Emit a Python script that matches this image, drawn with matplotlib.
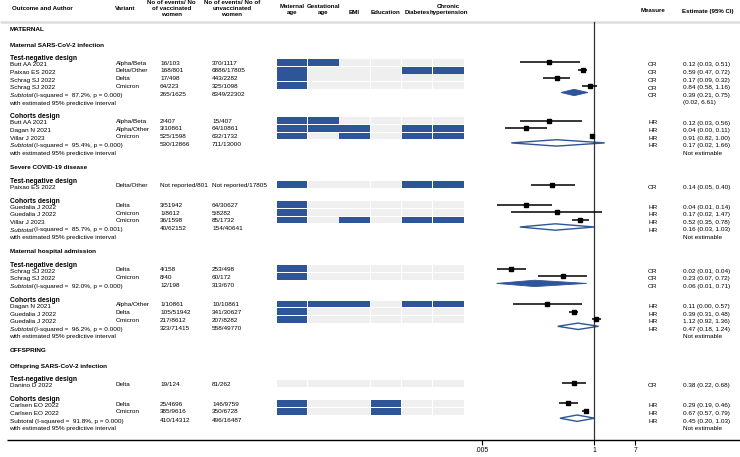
import matplotlib
matplotlib.use("Agg")
import matplotlib.pyplot as plt
import numpy as np

plt.rcParams['font.family'] = ['Liberation Sans', 'DejaVu Sans']

BLUE = "#2d5597"
GREY = "#efefef"
FS = 4.6

# --- data ---------------------------------------------------------------
authors = ["Butt AA 2021", "Paixao ES 2022", "Schrag SJ 2022", "Schrag SJ 2022",
           "Butt AA 2021", "Dagan N 2021", "Villar J 2023",
           "Paixao ES 2022",
           "Guedalia J 2022", "Guedalia J 2022", "Villar J 2023",
           "Schrag SJ 2022", "Schrag SJ 2022",
           "Dagan N 2021", "Guedalia J 2022", "Guedalia J 2022",
           "Danino D 2022",
           "Carlsen EO 2022", "Carlsen EO 2022"]
variants = ["Alpha/Beta", "Delta/Other", "Delta", "Omicron",
            "Alpha/Beta", "Alpha/Other", "Omicron",
            "Delta/Other",
            "Delta", "Omicron", "Omicron",
            "Delta", "Omicron",
            "Alpha/Other", "Delta", "Omicron",
            "Delta",
            "Delta", "Omicron"]
vacc = ["16/103", "168/801", "17/498", "64/223",
        "2/407", "3/10861", "525/1598",
        "Not reported/801",
        "3/51942", "1/8612", "36/1598",
        "4/158", "8/40",
        "1/10861", "105/51942", "217/8612",
        "19/124",
        "25/4696", "385/9616"]
unvacc = ["370/1117", "6886/17805", "443/2282", "325/1098",
          "15/407", "64/10861", "632/1732",
          "Not reported/17805",
          "64/30627", "5/8282", "85/1732",
          "253/498", "60/172",
          "10/10861", "341/30627", "207/8282",
          "81/262",
          "146/9759", "350/6728"]
measure = ["OR", "OR", "OR", "OR", "HR", "HR", "HR", "OR", "HR", "HR", "HR",
           "OR", "OR", "HR", "HR", "HR", "OR", "HR", "HR"]
est = [0.12, 0.59, 0.17, 0.84, 0.12, 0.04, 0.91, 0.14, 0.04, 0.17, 0.52,
       0.02, 0.23, 0.11, 0.39, 1.12, 0.38, 0.29, 0.67]
lo = [0.03, 0.47, 0.09, 0.58, 0.03, 0.015, 0.82, 0.05, 0.01, 0.02, 0.35,
      0.01, 0.07, 0.022, 0.31, 0.92, 0.22, 0.19, 0.57]
hi = [0.51, 0.72, 0.32, 1.16, 0.56, 0.11, 1.00, 0.40, 0.14, 1.47, 0.78,
      0.04, 0.72, 0.57, 0.48, 1.36, 0.68, 0.46, 0.79]
est_text = ["0.12 (0.03, 0.51)", "0.59 (0.47, 0.72)", "0.17 (0.09, 0.32)", "0.84 (0.58, 1.16)",
            "0.12 (0.03, 0.56)", "0.04 (0.00, 0.11)", "0.91 (0.82, 1.00)",
            "0.14 (0.05, 0.40)",
            "0.04 (0.01, 0.14)", "0.17 (0.02, 1.47)", "0.52 (0.35, 0.78)",
            "0.02 (0.01, 0.04)", "0.23 (0.07, 0.72)",
            "0.11 (0.00, 0.57)", "0.39 (0.31, 0.48)", "1.12 (0.92, 1.36)",
            "0.38 (0.22, 0.68)",
            "0.29 (0.19, 0.46)", "0.67 (0.57, 0.79)"]
# adjustment: maternal age, gestational age, BMI, education, diabetes, chronic hypertension
adjusted = [[1, 1, 0, 0, 0, 0], [1, 0, 0, 0, 1, 1], [1, 0, 0, 0, 0, 0], [1, 0, 0, 0, 0, 0],
            [1, 1, 0, 0, 0, 0], [1, 1, 1, 0, 1, 1], [1, 0, 1, 0, 1, 1],
            [1, 0, 0, 0, 1, 1],
            [1, 0, 0, 0, 0, 0], [1, 0, 0, 0, 0, 0], [1, 0, 1, 0, 1, 1],
            [1, 0, 0, 0, 0, 0], [1, 0, 0, 0, 0, 0],
            [1, 1, 1, 0, 1, 1], [1, 0, 0, 0, 0, 0], [1, 0, 0, 0, 0, 0],
            [0, 0, 0, 0, 0, 0],
            [1, 0, 0, 1, 0, 0], [1, 0, 0, 1, 0, 0]]
study_block = [0, 0, 0, 0, 1, 1, 1, 2, 3, 3, 3, 4, 4, 5, 5, 5, 6, 7, 7]

block_group = ["MATERNAL", None, None, None, None, None, "OFFSPRING", None]
block_outcome = ["Maternal SARS-CoV-2 infection", None, "Severe COVID-19 disease", None,
                 "Maternal hospital admission", None, "Offspring SARS-CoV-2 infection", None]
block_design = ["Test-negative design", "Cohorts design"] * 4

sub_block = [0, 1, 3, 4, 5, 7]
sub_stats = ["(I-squared =  87.2%, p = 0.000)", "(I-squared =  95.4%, p = 0.000)",
             "(I-squared =  85.7%, p = 0.001)", "(I-squared =  92.0%, p = 0.000)",
             "(I-squared =  96.2%, p = 0.000)", "(I-squared =  91.8%, p = 0.000)"]
sub_vacc = ["265/1625", "530/12866", "40/62152", "12/198", "323/71415", "410/14312"]
sub_unvacc = ["8349/22302", "711/13000", "154/40641", "313/670", "558/49770", "496/16487"]
sub_measure = ["OR", "HR", "HR", "OR", "HR", "HR"]
sub_est = [0.39, 0.17, 0.16, 0.06, 0.47, 0.45]
sub_lo = [0.21, 0.02, 0.03, 0.01, 0.18, 0.20]
sub_hi = [0.75, 1.66, 1.03, 0.71, 1.24, 1.03]
sub_text = ["0.39 (0.21, 0.75)", "0.17 (0.02, 1.66)", "0.16 (0.03, 1.03)",
            "0.06 (0.01, 0.71)", "0.47 (0.18, 1.24)", "0.45 (0.20, 1.03)"]
sub_pi = ["(0.02, 6.61)", "Not estimable", "Not estimable", None, "Not estimable", "Not estimable"]
sub_filled = [True, False, False, True, False, False]

adj_labels = ["Maternal\nage", "Gestational\nage", "BMI", "Education", "Diabetes",
              "Chronic\nhypertension"]
xticks = [0.005, 1, 7]
xtick_labels = [".005", "1", "7"]

# --- layout -------------------------------------------------------------
W, H = 740, 457
fig = plt.figure(figsize=(W / 100, H / 100), dpi=100)
ax = fig.add_axes([0, 0, 1, 1])
ax.set_xlim(0, W)
ax.set_ylim(H, 0)
ax.axis("off")

# forest axes: 1 at x=594px, 48.7 px per decade, bottom at y=440px
px_dec = 48.7
fx0, fx1 = 470, 640
ax2 = fig.add_axes([fx0 / W, (H - 440) / H, (fx1 - fx0) / W, 440 / H])
ax2.set_xscale("log")
ax2.set_xlim(10 ** ((fx0 - 594) / px_dec), 10 ** ((fx1 - 594) / px_dec))
ax2.set_ylim(440, 0)
ax2.patch.set_visible(False)
for s in ax2.spines.values():
    s.set_visible(False)
ax2.set_yticks([])
ax2.xaxis.set_minor_locator(matplotlib.ticker.NullLocator())
ax2.set_xticks(xticks)
ax2.set_xticklabels(xtick_labels, fontsize=FS + 0.3)
ax2.tick_params(axis="x", length=3.5, width=0.8, pad=1.5)
ax2.axvline(1, ymin=0, ymax=1 - 22 / 440, color="#333333", lw=0.9)

X_AUTH, X_VAR, X_VAC, X_UNV = 9.5, 115.7, 160, 212
X_MEAS, X_EST = 652.7, 683.3
GRID_X0, GRID_DX, GRID_W = 276.7, 31.3, 30.5

# header
hd = dict(fontsize=FS - 0.2, fontweight="bold", va="center")
ax.text(11.5, 9, "Outcome and Author", ha="left", **hd)
ax.text(125, 8.5, "Variant", ha="center", **hd)
ax.text(171.7, 8.7, "No of events/ No\nof vaccinated\nwomen", ha="center", linespacing=1.2, **hd)
ax.text(231.7, 8.7, "No of events/ No of\nunvaccinated\nwomen", ha="center", linespacing=1.2, **hd)
for j, lab in enumerate(adj_labels):
    yy = 9.3 if "\n" in lab else 12.3
    ax.text(GRID_X0 + GRID_DX * j + GRID_W / 2, yy, lab, ha="center", linespacing=1.25, **hd)
ax.text(X_MEAS, 11, "Measure", ha="center", **hd)
ax.text(707.7, 11, "Estimate (95% CI)", ha="center", **hd)
ax.plot([0, W], [22, 22], color="#dddddd", lw=1.8, solid_capstyle="butt")
ax.plot([7, W], [440, 440], color="black", lw=1.0, solid_capstyle="butt")

tx = dict(fontsize=FS, va="center")
STEP = 7.7
y = 29.7
last_text = None
for b in range(len(block_design)):
    if block_group[b]:
        if last_text is not None:
            y = last_text + 14
        ax.text(X_AUTH, y, block_group[b], ha="left", fontweight="bold", **tx)
        last_text = y
        y = y + 15.5
    elif block_outcome[b]:
        y = last_text + 14
    if block_outcome[b]:
        ax.text(X_AUTH, y, block_outcome[b], ha="left", fontweight="bold", **tx)
        y = y + 13.7
    else:
        y = last_text + 14
    ax.text(X_AUTH, y, block_design[b], ha="left", fontweight="bold", fontsize=FS + 0.3, va="center")
    hdr = y
    idx = [i for i in range(len(authors)) if study_block[i] == b]
    for k, i in enumerate(idx):
        r = hdr + 3.5 + STEP * k
        ax.text(X_AUTH, r + 2.5, authors[i], ha="left", **tx)
        ax.text(X_VAR, r + 0.8, variants[i], ha="left", **tx)
        ax.text(X_VAC, r + 0.8, vacc[i], ha="left", **tx)
        ax.text(X_UNV, r + 0.8, unvacc[i], ha="left", **tx)
        ax.text(X_MEAS, r + 2.5, measure[i], ha="center", **tx)
        ax.text(X_EST, r + 2.5, est_text[i], ha="left", **tx)
        for j, v in enumerate(adjusted[i]):
            ax.barh(r, GRID_W, left=GRID_X0 + GRID_DX * j, height=6.8,
                    color=BLUE if v else GREY, linewidth=0)
        ax2.plot([lo[i], hi[i]], [r, r], color="black", lw=1.1, solid_capstyle="butt")
        ax2.plot(est[i], r, marker="s", color="black", markersize=2.9)
        last_text = r + 2.5
    if b in sub_block:
        s = sub_block.index(b)
        sy = hdr + 3.5 + STEP * (len(idx) - 1) + 7
        t = ax.text(X_AUTH, sy + 3, "Subtotal ", ha="left",
                    fontstyle="normal" if b == 7 else "italic", **tx)
        ax.annotate(sub_stats[s], xy=(1, 0.5), xycoords=t, ha="left", **tx)
        ax.text(X_VAC, sy + 2, sub_vacc[s], ha="left", **tx)
        ax.text(X_UNV, sy + 2, sub_unvacc[s], ha="left", **tx)
        ax.text(X_MEAS, sy + 3, sub_measure[s], ha="center", **tx)
        ax.text(X_EST, sy + 3, sub_text[s], ha="left", **tx)
        last_text = sy + 3
        if sub_pi[s]:
            ax.text(X_AUTH, sy + 10.5, "with estimated 95% predictive interval", ha="left", **tx)
            ax.text(X_EST, sy + 10.3, sub_pi[s], ha="left", **tx)
            last_text = sy + 10.5
        dx = [sub_lo[s], sub_est[s], sub_hi[s], sub_est[s]]
        dy = [sy, sy - 3.2, sy, sy + 3.2]
        if sub_filled[s]:
            ax2.fill(dx, dy, facecolor=BLUE, edgecolor=BLUE, lw=0.6)
        else:
            ax2.fill(dx, dy, facecolor="white", edgecolor=BLUE, lw=1.0)

fig.savefig("out.png", dpi=100)
